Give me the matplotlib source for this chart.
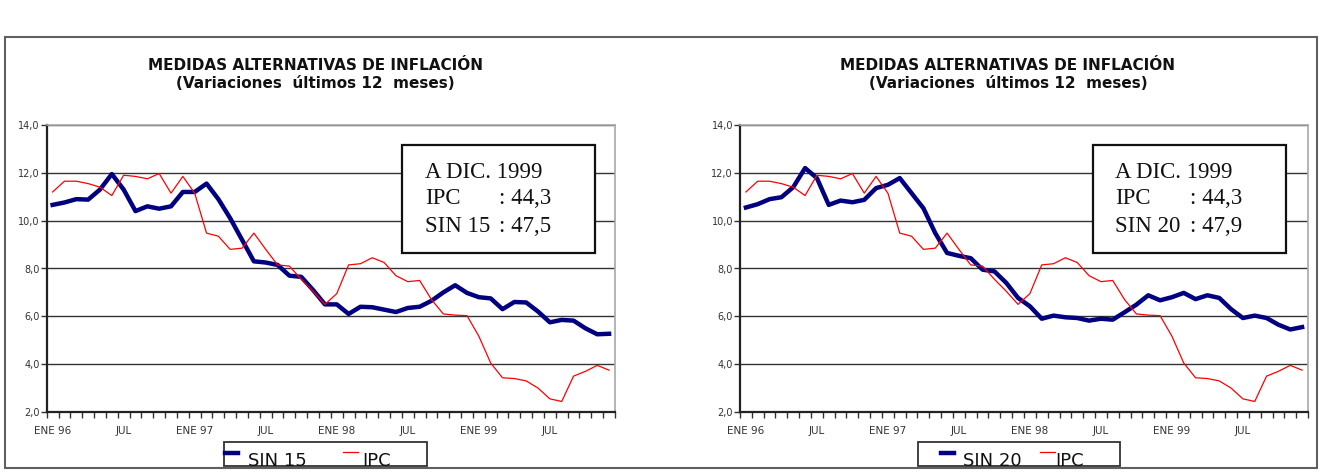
import numpy as np
import matplotlib
matplotlib.use("Agg")
from matplotlib import pyplot as plt
from matplotlib.patches import Rectangle
from matplotlib.lines import Line2D

# monthly data, ENE 96 .. DIC 99 (variaciones 12 meses, %)
sin15 = [10.66, 10.76, 10.9, 10.88, 11.3, 11.95, 11.3, 10.4, 10.6, 10.5, 10.6, 11.2,
         11.2, 11.55, 10.9, 10.1, 9.2, 8.3, 8.25, 8.15, 7.7, 7.65, 7.1, 6.5,
         6.5, 6.1, 6.4, 6.38, 6.28, 6.18, 6.35, 6.4, 6.65, 7.0, 7.3, 6.98,
         6.8, 6.75, 6.3, 6.6, 6.58, 6.2, 5.75, 5.85, 5.82, 5.5, 5.25, 5.27]
sin20 = [10.55, 10.69, 10.9, 10.98, 11.4, 12.2, 11.78, 10.66, 10.84, 10.77, 10.87, 11.36,
         11.5, 11.78, 11.15, 10.52, 9.48, 8.65, 8.53, 8.43, 7.95, 7.88, 7.4, 6.77,
         6.42, 5.9, 6.03, 5.96, 5.93, 5.82, 5.9, 5.86, 6.17, 6.49, 6.88, 6.67,
         6.8, 6.98, 6.72, 6.88, 6.77, 6.3, 5.93, 6.03, 5.93, 5.65, 5.45, 5.55]
ipc = [11.2, 11.65, 11.65, 11.55, 11.4, 11.05, 11.9, 11.85, 11.75, 11.97, 11.15, 11.85,
       11.15, 9.48, 9.35, 8.8, 8.85, 9.48, 8.8, 8.15, 8.1, 7.55, 7.05, 6.5,
       6.95, 8.15, 8.2, 8.45, 8.25, 7.7, 7.45, 7.5, 6.7, 6.1, 6.05, 6.03,
       5.17, 4.05, 3.43, 3.4, 3.3, 3.0, 2.55, 2.44, 3.5, 3.7, 3.95, 3.75]
xlabels = ["ENE 96", "JUL", "ENE 97", "JUL", "ENE 98", "JUL", "ENE 99", "JUL"]
yticks = [2, 4, 6, 8, 10, 12, 14]
ipc_total = "44,3"
totals = {"SIN 15": "47,5", "SIN 20": "47,9"}

W, H = 1320, 475
fig = plt.figure(figsize=(W / 100, H / 100), dpi=100)

def fx(x):
    return x / W

def fy(y):
    return 1 - y / H

# outer frame
fig.patches.append(Rectangle((fx(5), fy(468)), fx(1317) - fx(5), fy(37) - fy(468),
                             transform=fig.transFigure, fill=False,
                             edgecolor="#606060", lw=1.5))

panels = [
    # name, series, axes left/right px, title center, box x, text x, colon x, legend
    ("SIN 15", sin15, 46.7, 615, 315, (402, 595), 425, 499, (224, 427), 225, 248, 343, 362),
    ("SIN 20", sin20, 740, 1308, 1008, (1093, 1286), 1115, 1190, (918, 1120), 941, 963, 1040, 1055),
]

for (name, serie, x0, x1, tcx, (bx0, bx1), tx, cx,
     (lx0, lx1), h1, t1, h2, t2) in panels:
    ax = fig.add_axes([fx(x0), fy(412), fx(x1) - fx(x0), fy(125) - fy(412)])
    n = len(serie)
    xs = np.arange(n)
    ax.set_xlim(-0.5, n - 0.5)
    ax.set_ylim(yticks[0], yticks[-1])
    ax.set_yticks(yticks)
    ax.set_yticklabels(["%d,0" % v for v in yticks], fontsize=7, color="#333333")
    ax.yaxis.grid(True, color="#333333", lw=1)
    ax.set_axisbelow(True)
    ax.set_xticks(np.arange(n + 1) - 0.5)
    ax.set_xticklabels([])
    ax.set_xticks(xs[::6], minor=True)
    ax.set_xticklabels(xlabels, minor=True, fontsize=7.5, color="#333333")
    ax.tick_params(axis="x", which="minor", length=0, pad=10)
    ax.tick_params(axis="x", which="major", length=4, width=1, color="#333333")
    ax.tick_params(axis="y", length=4, width=1, color="#333333", pad=1)
    for s in ["left", "bottom"]:
        ax.spines[s].set_color("#222222")
        ax.spines[s].set_linewidth(1.6)
    for s in ["top", "right"]:
        ax.spines[s].set_color("#a8a8a8")
        ax.spines[s].set_linewidth(1.2)

    lb, = ax.plot(xs, serie, color="#000080", lw=3.2, solid_joinstyle="round", zorder=3)
    lr, = ax.plot(xs, ipc, color="#ff0000", lw=0.9, zorder=4)

    # titles
    fig.text(fx(tcx), fy(66), "MEDIDAS ALTERNATIVAS DE INFLACIÓN", ha="center",
             va="center", fontsize=11, fontweight="bold", color="#111111")
    fig.text(fx(tcx), fy(84), "(Variaciones  últimos 12  meses)", ha="center",
             va="center", fontsize=11, fontweight="bold", color="#111111")

    # annotation box
    fig.patches.append(Rectangle((fx(bx0), fy(253)), fx(bx1) - fx(bx0), fy(145) - fy(253),
                                 transform=fig.transFigure, facecolor="white",
                                 edgecolor="#111111", lw=1.6, zorder=5))
    serif = dict(fontsize=16.5, family="Liberation Serif", va="center", color="#111111",
                 zorder=6)
    fig.text(fx(tx), fy(172), "A DIC. 1999", **serif)
    fig.text(fx(tx), fy(199), "IPC", **serif)
    fig.text(fx(cx), fy(199), ": " + ipc_total, **serif)
    fig.text(fx(tx), fy(227), name, **serif)
    fig.text(fx(cx), fy(227), ": " + totals[name], **serif)

    # legend
    fig.patches.append(Rectangle((fx(lx0), fy(466)), fx(lx1) - fx(lx0), fy(442) - fy(466),
                                 transform=fig.transFigure, facecolor="white",
                                 edgecolor="#333333", lw=1.3))
    fig.lines.append(Line2D([fx(h1), fx(h1 + 13)], [fy(453), fy(453)],
                            transform=fig.transFigure, color=lb.get_color(),
                            lw=lb.get_linewidth()))
    fig.lines.append(Line2D([fx(h2), fx(h2 + 15)], [fy(452), fy(452)],
                            transform=fig.transFigure, color=lr.get_color(),
                            lw=lr.get_linewidth()))
    fig.text(fx(t1), fy(466), name, fontsize=13, va="baseline", color="#111111")
    fig.text(fx(t2), fy(466), "IPC", fontsize=13, va="baseline", color="#111111")

fig.savefig("out.png", dpi=100)
